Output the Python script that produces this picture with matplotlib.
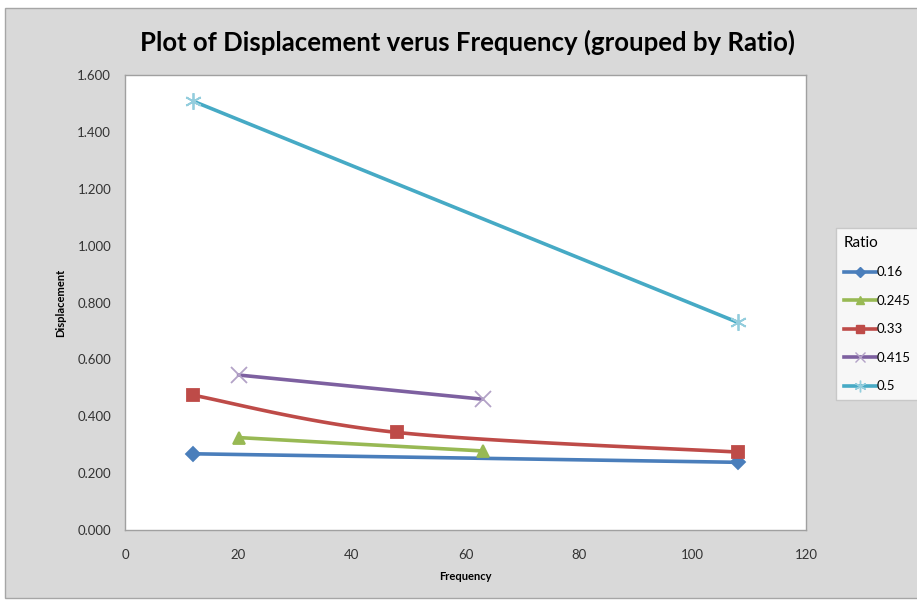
import numpy as np
import matplotlib.pyplot as plt
from matplotlib.patches import Rectangle

# Datos (Frequency, Displacement) agrupados por Ratio
ratios = ["0.16", "0.245", "0.33", "0.415", "0.5"]
freq_016 = [12, 108]
disp_016 = [0.268, 0.238]
freq_0245 = [20, 63]
disp_0245 = [0.325, 0.278]
freq_033 = [12, 48, 108]
disp_033 = [0.474, 0.343, 0.274]
freq_0415 = [20, 63]
disp_0415 = [0.545, 0.460]
freq_05 = [12, 108]
disp_05 = [1.508, 0.730]

x_ticks = [0, 20, 40, 60, 80, 100, 120]
y_ticks = [0.0, 0.2, 0.4, 0.6, 0.8, 1.0, 1.2, 1.4, 1.6]

colores = ["#4A7EBB", "#98B954", "#BE4B48", "#7D60A0", "#46AAC5"]
marcadores = ["D", "^", "s", "x", (6, 2, 0)]
tam_marcador = [7, 9, 9, 11, 12]
color_marcador = ["#4A7EBB", "#98B954", "#BE4B48", "#B3A2C7", "#93CDDD"]


# Línea suavizada tipo Excel (Bezier con puntos de control Catmull-Rom)
def suavizar(xs, ys, n=40):
    p = np.column_stack([xs, ys]).astype(float)
    if len(p) < 3:
        return p[:, 0], p[:, 1]
    ext = np.vstack([p[0], p, p[-1]])
    out = []
    t = np.linspace(0, 1, n)[:, None]
    for i in range(len(p) - 1):
        p0, p1 = ext[i + 1], ext[i + 2]
        c1 = p0 + (ext[i + 2] - ext[i]) / 6
        c2 = p1 - (ext[i + 3] - ext[i + 1]) / 6
        seg = ((1 - t) ** 3) * p0 + 3 * ((1 - t) ** 2) * t * c1 + 3 * (1 - t) * t ** 2 * c2 + t ** 3 * p1
        out.append(seg)
    out = np.vstack(out)
    return out[:, 0], out[:, 1]


plt.rcParams['font.family'] = ['Lato', 'DejaVu Sans']

fig = plt.figure(figsize=(9.17, 6.01), dpi=100)
fig.patch.set_facecolor("white")
# Fondo gris del área del gráfico
fondo = Rectangle((5 / 917, 3 / 601), 1.2, 590 / 601, transform=fig.transFigure,
                  facecolor="#D9D9D9", edgecolor="#A6A6A6", linewidth=1, zorder=-10)
fig.patches.append(fondo)

ax = fig.add_axes([125 / 917, 1 - 530 / 601, 681 / 917, 455 / 601])
ax.set_zorder(1)
ax.set_facecolor("white")

series = [(freq_016, disp_016), (freq_0245, disp_0245), (freq_033, disp_033),
          (freq_0415, disp_0415), (freq_05, disp_05)]

for k, (fx, dy) in enumerate(series):
    sx, sy = suavizar(fx, dy)
    ax.plot(sx, sy, color=colores[k], linewidth=2.6, solid_capstyle="round", zorder=2)
    ax.plot(fx, dy, linestyle="none", marker=marcadores[k], markersize=tam_marcador[k],
            color=color_marcador[k], markeredgecolor=color_marcador[k], markeredgewidth=1.3, zorder=3)

ax.set_xlim(0, 120)
ax.set_ylim(0, 1.6)
ax.set_xticks(x_ticks)
ax.set_yticks(y_ticks)
ax.set_xticklabels([str(v) for v in x_ticks])
ax.set_yticklabels([f"{v:.3f}" for v in y_ticks])
ax.tick_params(length=0, labelsize=9.5, colors="#333333", pad=10)
ax.tick_params(axis="x", pad=14)
for s in ax.spines.values():
    s.set_color("#A0A0A0")
    s.set_linewidth(1)

ax.set_xlabel("Frequency", fontsize=8, fontweight="bold", labelpad=7)
ax.set_ylabel("Displacement", fontsize=8, fontweight="bold", labelpad=8)

fig.text(468 / 917, 1 - 42 / 601, "Plot of Displacement verus Frequency (grouped by Ratio)",
         ha="center", va="center", fontsize=18.5, fontweight="bold")

# Leyenda
handles = []
for k in range(5):
    h, = ax.plot([], [], color=colores[k], linewidth=2.6, marker=marcadores[k],
                 markersize=tam_marcador[k] * 0.7, markerfacecolor=color_marcador[k],
                 markeredgecolor=color_marcador[k])
    handles.append(h)
leg = fig.legend(handles, ratios, title="Ratio", loc="upper left",
                 bbox_to_anchor=(836 / 917, 1 - 228 / 601), fontsize=9.5, title_fontsize=11,
                 frameon=True, fancybox=False, handlelength=2.4, handletextpad=0.1,
                 labelspacing=1.25, borderpad=0.6, borderaxespad=0, alignment="left")
leg.get_frame().set_edgecolor("#C0C0C0")
leg.get_frame().set_linewidth(1)
leg.set_zorder(5)

plt.savefig("out.png", dpi=100)
